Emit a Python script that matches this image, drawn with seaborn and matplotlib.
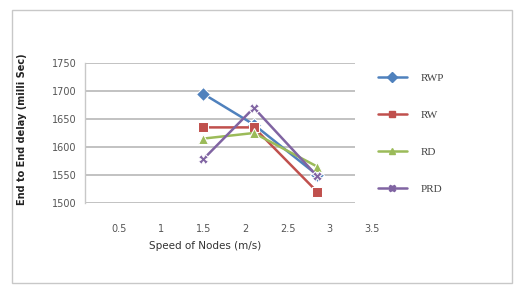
import matplotlib
matplotlib.use("Agg")
import matplotlib.pyplot as plt
import seaborn as sns
import pandas as pd
from matplotlib.patches import Rectangle

speeds = [1.5, 2.1, 2.85]
series_names = ["RWP", "RW", "RD", "PRD"]
rwp = [1695, 1640, 1550]
rw = [1635, 1635, 1520]
rd = [1615, 1625, 1565]
prd = [1578, 1670, 1548]
x_ticks = [0.5, 1, 1.5, 2, 2.5, 3, 3.5]
y_ticks = [1500, 1550, 1600, 1650, 1700, 1750]

colors = {"RWP": "#4F81BD", "RW": "#C0504D", "RD": "#9BBB59", "PRD": "#8064A2"}
markers = {"RWP": "D", "RW": "s", "RD": "^", "PRD": "X"}

rows = []
for name, vals in zip(series_names, [rwp, rw, rd, prd]):
    for s, v in zip(speeds, vals):
        rows.append({"speed": s, "delay": v, "series": name})
df = pd.DataFrame(rows)

sns.set_theme(style="white")
fig = plt.figure(figsize=(5.17, 2.86), dpi=100)
ax = fig.add_axes([85 / 517, 83 / 286, 293 / 517, 140 / 286])

sns.lineplot(data=df, x="speed", y="delay", hue="series", style="series",
             hue_order=series_names, style_order=series_names,
             palette=colors, markers=markers, dashes=False, markersize=7,
             linewidth=1.8, ax=ax, legend=False)

ax.set_xlim(0.1, 3.57)
ax.set_ylim(1500, 1750)
ax.set_xticks(x_ticks)
ax.set_xticklabels([f"{t:g}" for t in x_ticks])
ax.set_yticks(y_ticks)
ax.hlines(y_ticks, 0, 270 / 293, transform=ax.get_yaxis_transform(),
          colors="#b8b8b8", linewidth=1.2, zorder=0)
for side in ["top", "right", "bottom"]:
    ax.spines[side].set_visible(False)
ax.spines["left"].set_color("#c8c8c8")
ax.spines["left"].set_linewidth(1.0)
ax.tick_params(axis="x", length=0, pad=15, labelsize=7, labelcolor="#555555")
ax.tick_params(axis="y", length=0, pad=6, labelsize=7, labelcolor="#555555")
ax.set_xlabel("Speed of Nodes (m/s)", fontsize=7.5, color="#333333")
ax.xaxis.set_label_coords(120 / 293, -0.27)
ax.set_ylabel("")
fig.text(22 / 517, 0.55, "End to End delay (milli Sec)", rotation=90,
         fontsize=7, fontweight="bold", color="#222222", ha="center", va="center")

handles = [plt.Line2D([], [], color=colors[n], marker=markers[n], markersize=5,
                      linewidth=1.8) for n in series_names]
leg = fig.legend(handles, series_names, loc="upper left",
                 bbox_to_anchor=(368 / 517, 1 - 63 / 286), frameon=False,
                 handlelength=2.6, labelspacing=2.45, handletextpad=1.2,
                 prop={"family": "Liberation Serif", "size": 8})
for t in leg.get_texts():
    t.set_color("#444444")

fig.patches.append(Rectangle((12 / 517, 3 / 286), 500 / 517, 273 / 286,
                             transform=fig.transFigure, fill=False,
                             edgecolor="#c8c8c8", linewidth=1.0))

fig.savefig("out.png", dpi=100)
